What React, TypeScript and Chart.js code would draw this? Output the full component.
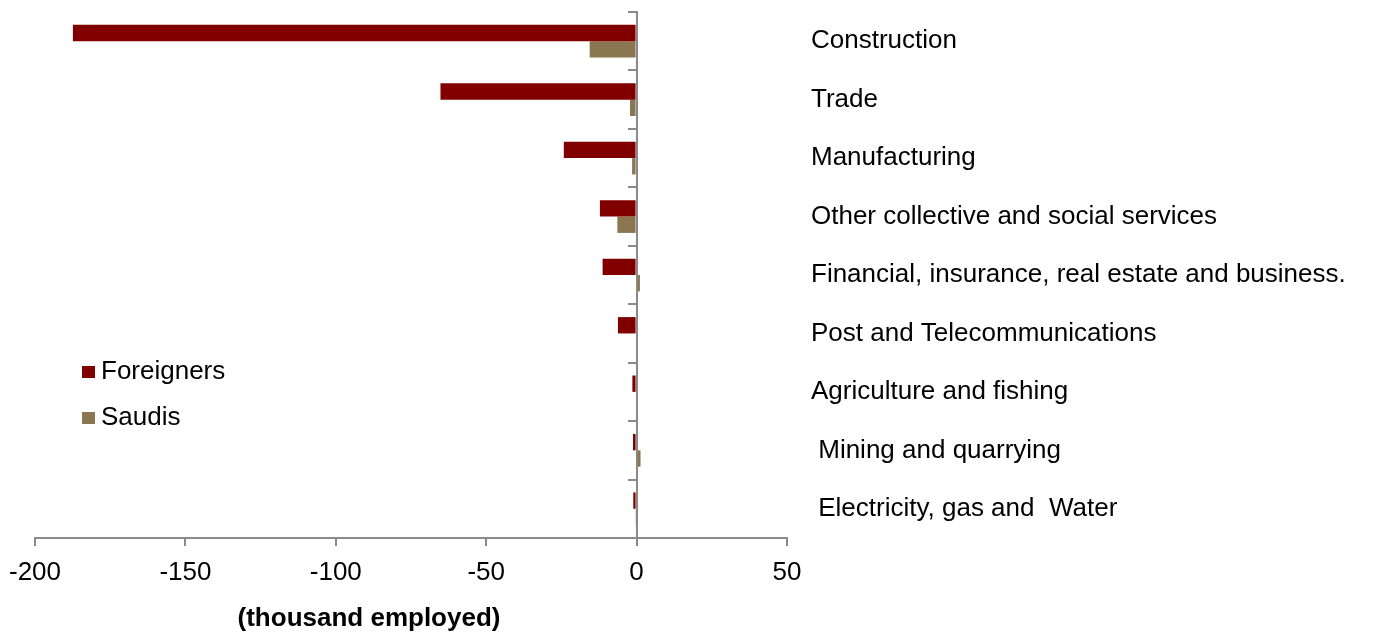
import React, { useEffect, useRef } from "react";
import { Chart, registerables } from "chart.js";

Chart.register(...registerables);

const categories: string[] = [
  "Construction",
  "Trade",
  "Manufacturing",
  "Other collective and social services",
  "Financial, insurance, real estate and business.",
  "Post and Telecommunications",
  "Agriculture and fishing",
  " Mining and quarrying",
  " Electricity, gas and  Water",
];

const foreigners: number[] = [-187.4, -65.2, -24.2, -12.2, -11.3, -6.2, -1.4, -1.2, -1.1];
const saudis: number[] = [-15.6, -2.2, -1.5, -6.4, 1.1, 0, 0, 1.3, -0.4];

const seriesNames: string[] = ["Foreigners", "Saudis"];
const seriesColors: string[] = ["#800000", "#8B7652"];

const xMin = -200;
const xMax = 50;
const xStep = 50;
const axisTitle = "(thousand employed)";

const FONT = "'Liberation Sans', Arial, sans-serif";
const AXIS_GRAY = "#8a8a8a";

const overlayPlugin = {
  id: "overlay",
  afterDraw(chart: any) {
    const ctx = chart.ctx;
    const area = chart.chartArea;
    ctx.save();
    // legend
    ctx.font = `26px ${FONT}`;
    ctx.textBaseline = "middle";
    ctx.textAlign = "left";
    seriesNames.forEach((name, i) => {
      const cy = area.top + 360 + i * 46;
      ctx.fillStyle = seriesColors[i];
      ctx.fillRect(area.left + 47, cy - 6, 13, 12);
      ctx.fillStyle = "#000";
      ctx.fillText(name, area.left + 66, cy);
    });
    // axis title
    ctx.font = `bold 26px ${FONT}`;
    ctx.textAlign = "center";
    ctx.fillText(axisTitle, area.left + 334, area.bottom + 81);
    ctx.restore();
  },
};

export default function App() {
  const ref = useRef<HTMLCanvasElement | null>(null);

  useEffect(() => {
    if (!ref.current) return;
    const chart = new Chart(ref.current, {
      type: "bar",
      data: {
        labels: categories,
        datasets: seriesNames.map((name, i) => ({
          label: name,
          data: i === 0 ? foreigners : saudis,
          backgroundColor: seriesColors[i],
          borderWidth: 0,
          barPercentage: 1,
          categoryPercentage: 0.56,
          yAxisID: "y",
        })),
      },
      options: {
        indexAxis: "y",
        responsive: false,
        animation: false,
        layout: { padding: { left: 35, top: 12, right: 0, bottom: 0 } },
        plugins: {
          legend: { display: false },
          tooltip: { enabled: false },
        },
        scales: {
          x: {
            type: "linear",
            position: "bottom",
            min: xMin,
            max: xMax,
            ticks: {
              stepSize: xStep,
              color: "#000",
              font: { family: FONT, size: 26 },
              padding: 11,
              maxRotation: 0,
            },
            grid: {
              drawOnChartArea: false,
              drawTicks: true,
              tickLength: 8,
              color: AXIS_GRAY,
              lineWidth: 2,
            },
            border: { color: AXIS_GRAY, width: 2 },
            afterFit: (s: any) => {
              s.height = 95;
              s.paddingLeft = 0;
              s.paddingRight = 0;
            },
          },
          y: {
            type: "category",
            position: { x: 0 } as any,
            ticks: { display: false },
            grid: {
              drawOnChartArea: false,
              drawTicks: true,
              tickLength: 8,
              offset: true,
              color: AXIS_GRAY,
              lineWidth: 2,
            },
            border: { color: AXIS_GRAY, width: 2 },
            afterFit: (s: any) => {
              s.paddingTop = 0;
              s.paddingBottom = 0;
            },
          },
          y2: {
            type: "category",
            position: "right",
            labels: categories,
            offset: true,
            ticks: {
              color: "#000",
              font: { family: FONT, size: 26 },
              padding: 24,
              crossAlign: "near",
            },
            grid: { display: false, drawTicks: false },
            border: { display: false },
            afterFit: (s: any) => {
              s.width = 586;
              s.paddingTop = 0;
              s.paddingBottom = 0;
            },
          },
        },
      } as any,
      plugins: [overlayPlugin],
    });
    return () => chart.destroy();
  }, []);

  return (
    <div style={{ position: "fixed", left: 0, top: 0, width: 1373, height: 633, background: "#fff" }}>
      <canvas ref={ref} width={1373} height={633} style={{ display: "block" }} />
    </div>
  );
}
